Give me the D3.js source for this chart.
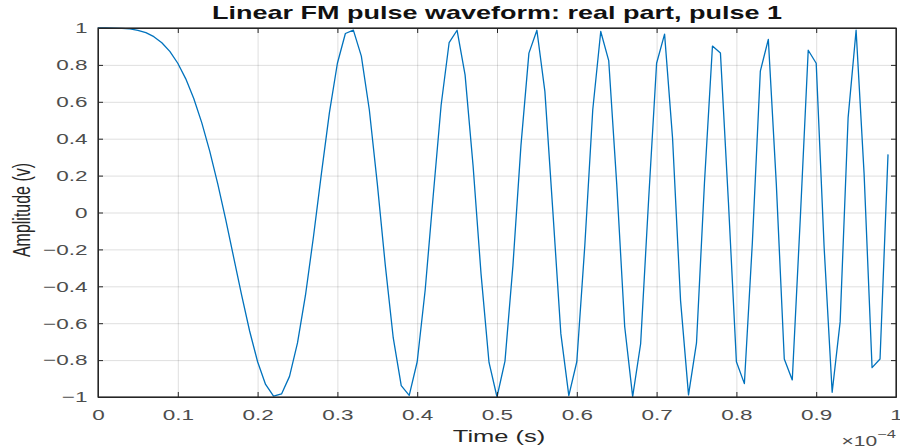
<!DOCTYPE html>
<html>
<head>
<meta charset="utf-8">
<script src="https://cdn.jsdelivr.net/npm/d3@7"></script>
<style>
  body { margin: 0; background: #fff; }
  svg { display: block; font-family: "Liberation Sans", Arial, sans-serif; }
  .grid line { stroke: #262626; stroke-opacity: 0.15; }
  .grid path { display: none; }
  .axis path, .axis line { stroke: #262626; }
</style>
</head>
<body>
<svg id="chart" width="900" height="448"></svg>
<script>
// samples of the real part, one per microsecond
const sampleRate = 1e6;
const amplitude = [
  1.0000, 1.0000, 0.9997, 0.9984, 0.9950, 0.9877, 0.9745, 0.9530, 0.9202, 0.8733,
  0.8090, 0.7245, 0.6179, 0.4873, 0.3328, 0.1564, -0.0377, -0.2426, -0.4484, -0.6423,
  -0.8090, -0.9321, -0.9950, -0.9834, -0.8882, -0.7071, -0.4484, -0.1316, 0.2120, 0.5410,
  0.8090, 0.9701, 0.9887, 0.8477, 0.5569, 0.1564, -0.2850, -0.6800, -0.9387, -0.9913,
  -0.8090, -0.4200, 0.0879, 0.5827, 0.9202, 0.9877, 0.7459, 0.2548, -0.3328, -0.8127,
  -1.0000, -0.8053, -0.2850, 0.3623, 0.8639, 0.9877, 0.6566, 0.0063, -0.6566, -0.9929,
  -0.8090, -0.1812, 0.5569, 0.9811, 0.8235, 0.1564, -0.6179, -0.9976, -0.7115, 0.0690,
  0.8090, 0.9670, 0.4029, -0.4762, -0.9887, -0.7071, 0.1626, 0.9021, 0.8639, 0.0565,
  -0.8090, -0.9275, -0.1626, 0.7665, 0.9387, 0.1564, -0.7940, -0.9075, -0.0377, 0.8793,
  0.8090, -0.1935, -0.9745, -0.5929, 0.5144, 0.9877, 0.2120, -0.8409, -0.7940, 0.3150
];

const xTicks = [0, 0.1e-4, 0.2e-4, 0.3e-4, 0.4e-4, 0.5e-4, 0.6e-4, 0.7e-4, 0.8e-4, 0.9e-4, 1e-4];
const xTickLabels = ["0", "0.1", "0.2", "0.3", "0.4", "0.5", "0.6", "0.7", "0.8", "0.9", "1"];
const yTicks = [-1, -0.8, -0.6, -0.4, -0.2, 0, 0.2, 0.4, 0.6, 0.8, 1];
const yTickLabels = ["\u22121", "\u22120.8", "\u22120.6", "\u22120.4", "\u22120.2", "0", "0.2", "0.4", "0.6", "0.8", "1"];

const data = amplitude.map((v, i) => ({ t: i / sampleRate, v: v }));

const svg = d3.select('#chart');
const plotLeft = 98, plotRight = 896, plotTop = 28, plotBottom = 397;
const sx = 1.5;   // picture is stretched sideways, text too

const x = d3.scaleLinear().domain([0, 1e-4]).range([plotLeft, plotRight]);
const y = d3.scaleLinear().domain([-1, 1]).range([plotBottom, plotTop]);

// grid
svg.append('g')
  .attr('class', 'grid')
  .attr('transform', `translate(0, ${plotBottom})`)
  .call(d3.axisBottom(x).tickValues(xTicks).tickSize(-(plotBottom - plotTop)).tickFormat(''));
svg.append('g')
  .attr('class', 'grid')
  .attr('transform', `translate(${plotLeft}, 0)`)
  .call(d3.axisLeft(y).tickValues(yTicks).tickSize(-(plotRight - plotLeft)).tickFormat(''));

// waveform
const line = d3.line().x(d => x(d.t)).y(d => y(d.v));
svg.append('path')
  .datum(data)
  .attr('fill', 'none')
  .attr('stroke', '#0072BD')
  .attr('stroke-width', 1.3)
  .attr('stroke-linejoin', 'round')
  .attr('d', line);

// axes, ticks pointing in, mirrored on top and right
const xAxis = svg.append('g')
  .attr('class', 'axis')
  .attr('transform', `translate(0, ${plotBottom})`)
  .call(d3.axisBottom(x).tickValues(xTicks).tickSizeInner(-5).tickSizeOuter(0)
    .tickPadding(12).tickFormat((d, i) => xTickLabels[i]));
xAxis.selectAll('text')
  .attr('transform', `scale(${sx},1)`)
  .attr('font-size', 15)
  .attr('fill', '#4d4d4d');

const yAxis = svg.append('g')
  .attr('class', 'axis')
  .attr('transform', `translate(${plotLeft}, 0)`)
  .call(d3.axisLeft(y).tickValues(yTicks).tickSizeInner(-5).tickSizeOuter(0)
    .tickPadding(7).tickFormat((d, i) => yTickLabels[i]));
yAxis.selectAll('text')
  .attr('transform', `scale(${sx},1)`)
  .attr('font-size', 15)
  .attr('fill', '#4d4d4d');

svg.append('g')
  .attr('class', 'axis')
  .attr('transform', `translate(0, ${plotTop})`)
  .call(d3.axisTop(x).tickValues(xTicks).tickSizeInner(-5).tickSizeOuter(0).tickFormat(''));
svg.append('g')
  .attr('class', 'axis')
  .attr('transform', `translate(${plotRight}, 0)`)
  .call(d3.axisRight(y).tickValues(yTicks).tickSizeInner(-5).tickSizeOuter(0).tickFormat(''));

svg.append('rect')
  .attr('x', plotLeft).attr('y', plotTop)
  .attr('width', plotRight - plotLeft).attr('height', plotBottom - plotTop)
  .attr('fill', 'none')
  .attr('stroke', '#262626')
  .attr('stroke-width', 1.2);

// title
svg.append('g')
  .attr('transform', `translate(${(plotLeft + plotRight) / 2}, 19) scale(${sx},1)`)
  .append('text')
  .attr('text-anchor', 'middle')
  .attr('font-weight', 'bold')
  .attr('font-size', 18)
  .attr('fill', '#111')
  .text('Linear FM pulse waveform: real part, pulse 1');

// axis labels
svg.append('g')
  .attr('transform', `translate(${(plotLeft + plotRight) / 2 + 2}, 442) scale(${sx},1)`)
  .append('text')
  .attr('text-anchor', 'middle')
  .attr('font-size', 17)
  .attr('fill', '#262626')
  .text('Time (s)');

svg.append('g')
  .attr('transform', `translate(30, 210) scale(${sx},1) rotate(-90)`)
  .append('text')
  .attr('text-anchor', 'middle')
  .attr('font-size', 16)
  .attr('fill', '#262626')
  .text('Amplitude (v)');

// exponent
const expo = svg.append('g')
  .attr('transform', `translate(896, 446) scale(${sx},1)`)
  .append('text')
  .attr('text-anchor', 'end')
  .attr('font-size', 14)
  .attr('fill', '#4d4d4d');
expo.append('tspan').text('\u00d710');
expo.append('tspan').attr('dy', -8).attr('font-size', 11).text('\u22124');
</script>
</body>
</html>
